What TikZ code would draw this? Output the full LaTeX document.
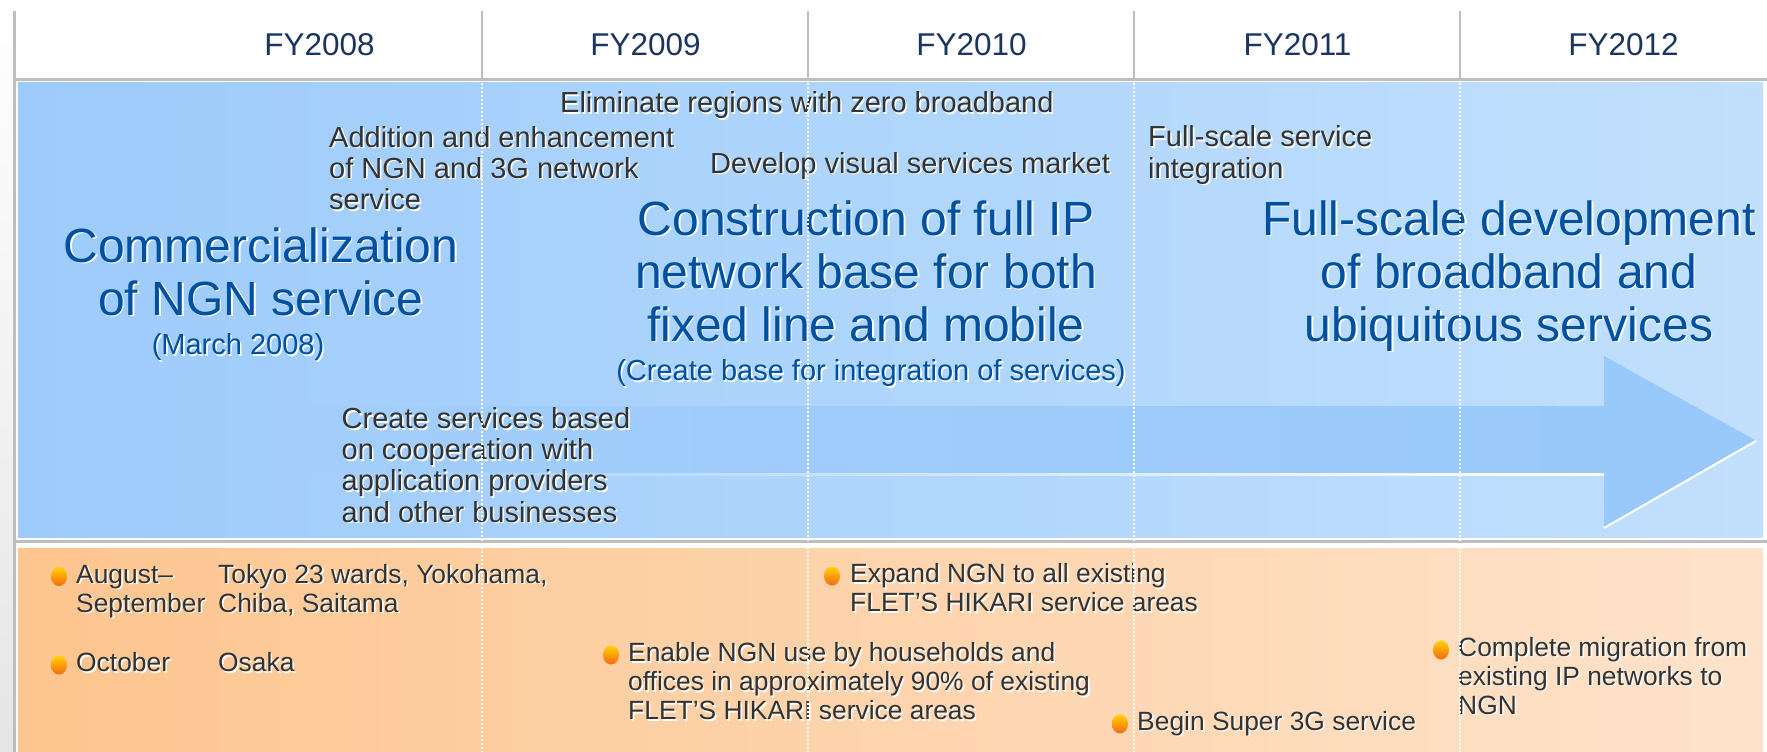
\documentclass[tikz,border=0pt]{standalone}
\usepackage{fontspec}
\setmainfont{Liberation Sans}
\usetikzlibrary{shapes.geometric}

\definecolor{fynavy}{RGB}{27,52,96}
\definecolor{titleblue}{RGB}{0,80,160}
\definecolor{bodygray}{RGB}{51,51,51}
\definecolor{panelblueL}{RGB}{157,203,251}
\definecolor{panelblueR}{RGB}{194,224,253}
\definecolor{arrowfade}{RGB}{163,206,251}
\definecolor{arrowblue}{RGB}{153,201,250}
\definecolor{panelorangeL}{RGB}{253,197,143}
\definecolor{panelorangeR}{RGB}{254,227,203}
\definecolor{rulegray}{RGB}{190,190,190}
\definecolor{dotyellow}{RGB}{255,210,0}
\definecolor{dotorange}{RGB}{246,104,20}

\tikzset{
  fylabel/.style={anchor=base, inner sep=0pt, text=fynavy, font=\fontsize{31.5}{36}\selectfont},
  bigtitle/.style={anchor=base, inner sep=0pt, align=center, text=titleblue, font=\fontsize{48}{53}\selectfont},
  subtitle/.style={anchor=base, inner sep=0pt, text=titleblue, font=\fontsize{29}{31}\selectfont},
  note/.style={anchor=base west, inner sep=0pt, align=left, text=bodygray, font=\fontsize{29}{31.2}\selectfont},
  item/.style={anchor=base west, inner sep=0pt, align=left, text=bodygray, font=\fontsize{26.4}{29}\selectfont},
  bulletdot/.style={ellipse, inner sep=0pt, minimum width=16pt, minimum height=19pt, top color=dotyellow, bottom color=dotorange},
  colrule/.style={rulegray, line width=2pt},
  dotrule/.style={white, line width=1.6pt, dash pattern=on 2pt off 2pt}
}

% text with a white drop shadow: name, position (last baseline), style, text
\newcommand{\shadowed}[4]{%
  \node[#3, text=white, xshift=1.6pt, yshift=-1.6pt] at #2 {#4};
  \node[#3] (#1) at #2 {#4};}

\begin{document}
\begin{tikzpicture}[x=1pt,y=-1pt]
\useasboundingbox (0,0) rectangle (1767,752);

% margin and panels
\shade[top color=white, bottom color=black!10] (0,0) rectangle (13,752);
\shade[left color=panelblueL, right color=panelblueR] (18,83) rectangle (1763,537);
\shade[left color=panelorangeL, right color=panelorangeR] (18,548) rectangle (1763,752);

% big arrow
\shade[left color=arrowfade, right color=arrowblue] (303,406) rectangle (1604,473);
\fill[arrowblue] (1604,356) -- (1755,440) -- (1604,527) -- cycle;
\shade[left color=arrowfade, right color=white] (303,473.5) rectangle (1604,475.5);
\draw[white, line width=2pt] (1604,528) -- (1756,441);

% header rules
\draw[rulegray, line width=2.5pt] (14.5,11) -- (14.5,752);
\draw[rulegray, line width=3pt] (14,80) -- (1767,80);
\draw[rulegray, line width=3pt] (14,541.5) -- (1767,541.5);
\foreach \i in {0,...,3}
  \draw[colrule] (482+326*\i,11) -- (482+326*\i,79);

\foreach \yr [count=\i from 0] in {2008,...,2012}
  \node[fylabel] (fy\yr) at (319.5+326*\i,56) {FY\yr};

% upper panel
\shadowed{elim}{(560,112.5)}{note}{Eliminate regions with zero broadband}
\shadowed{addn}{(329,209.5)}{note}{Addition and enhancement\\of NGN and 3G network\\service}
\shadowed{devel}{(710,173)}{note}{Develop visual services market}
\shadowed{integ}{(1148,178)}{note}{Full-scale service\\integration}
\shadowed{coop}{(341.5,522)}{note}{Create services based\\on cooperation with\\application providers\\and other businesses}

\shadowed{commerc}{(261,315)}{bigtitle}{Commercialization\\of NGN service}
\shadowed{march}{(238,354.5)}{subtitle}{(March 2008)}
\shadowed{construct}{(866,341)}{bigtitle}{Construction of full IP\\network base for both\\fixed line and mobile}
\shadowed{intbase}{(871,380.5)}{subtitle}{(Create base for integration of services)}
\shadowed{fullscale}{(1509,341)}{bigtitle}{Full-scale development\\of broadband and\\ubiquitous services}

% lower panel
\node[bulletdot] (dot1) at (59,576.5) {};
\shadowed{augsep}{(76,612)}{item}{August–\\September}
\shadowed{tokyo}{(218,612)}{item}{Tokyo 23 wards, Yokohama,\\Chiba, Saitama}
\node[bulletdot] (dot2) at (59,665) {};
\shadowed{octob}{(76,671.5)}{item}{October}
\shadowed{osaka}{(218,671.5)}{item}{Osaka}
\node[bulletdot] (dot3) at (832,576) {};
\shadowed{expand}{(850,611.5)}{item}{Expand NGN to all existing\\FLET’S HIKARI service areas}
\node[bulletdot] (dot4) at (611,655) {};
\shadowed{enable}{(628,719.5)}{item}{Enable NGN use by households and\\offices in approximately 90\% of existing\\FLET’S HIKARI service areas}
\node[bulletdot] (dot5) at (1120,724) {};
\shadowed{super}{(1137,730)}{item}{Begin Super 3G service}
\node[bulletdot] (dot6) at (1441,650) {};
\shadowed{migrate}{(1458,714)}{item}{Complete migration from\\existing IP networks to\\NGN}

% dotted year rules
\foreach \i in {0,...,3}
  \draw[dotrule] (482+326*\i,83) -- (482+326*\i,752);

\end{tikzpicture}
\end{document}
